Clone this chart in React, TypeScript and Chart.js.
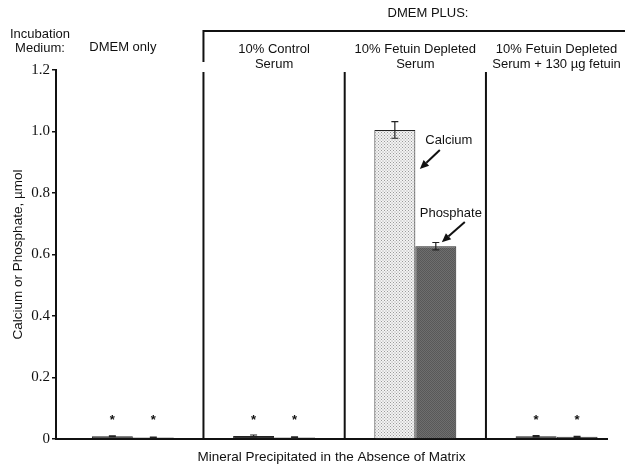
import React, { useEffect, useRef } from 'react';
import { Chart, registerables } from 'chart.js';

Chart.register(...registerables);

const groups = ['DMEM only', '10% Control Serum', '10% Fetuin Depleted Serum', '10% Fetuin Depleted Serum + 130 µg fetuin'];
const groupHeaderLines = [['DMEM only'], ['10% Control', 'Serum'], ['10% Fetuin Depleted', 'Serum'], ['10% Fetuin Depleted', 'Serum + 130 µg fetuin']];
const calcium = [0.009, 0.01, 1.005, 0.009];
const calciumErr = [0.001, 0.003, 0.027, 0.002];
const phosphate = [0.005, 0.005, 0.627, 0.007];
const phosphateErr = [0.001, 0.002, 0.012, 0.002];
const significant = [true, true, false, true];
const yTickValues = [0, 0.2, 0.4, 0.6, 0.8, 1.0, 1.2];

const SANS = '"Liberation Sans", Arial, sans-serif';
const SERIF = '"Liberation Serif", "Times New Roman", serif';

function makePattern(bg: string, dot: string, step: number) {
  const c = document.createElement('canvas');
  c.width = step;
  c.height = step;
  const g = c.getContext('2d')!;
  g.fillStyle = bg;
  g.fillRect(0, 0, step, step);
  g.fillStyle = dot;
  g.fillRect(0, 0, 1, 1);
  g.fillRect(step / 2, step / 2, 1, 1);
  const ctx = document.createElement('canvas').getContext('2d')!;
  return ctx.createPattern(c, 'repeat') as CanvasPattern;
}

function arrow(ctx: CanvasRenderingContext2D, x1: number, y1: number, x2: number, y2: number) {
  ctx.save();
  ctx.strokeStyle = '#111';
  ctx.fillStyle = '#111';
  ctx.lineWidth = 2;
  const ang = Math.atan2(y2 - y1, x2 - x1);
  const hl = 9;
  const hx = x2 - hl * Math.cos(ang);
  const hy = y2 - hl * Math.sin(ang);
  ctx.beginPath();
  ctx.moveTo(x1, y1);
  ctx.lineTo(hx, hy);
  ctx.stroke();
  ctx.beginPath();
  ctx.moveTo(x2, y2);
  ctx.lineTo(hx + 4 * Math.cos(ang + Math.PI / 2), hy + 4 * Math.sin(ang + Math.PI / 2));
  ctx.lineTo(hx + 4 * Math.cos(ang - Math.PI / 2), hy + 4 * Math.sin(ang - Math.PI / 2));
  ctx.closePath();
  ctx.fill();
  ctx.restore();
}

const decorPlugin = {
  id: 'decor',
  afterDatasetsDraw(chart: any) {
    const ctx: CanvasRenderingContext2D = chart.ctx;
    const xs = chart.scales.x;
    const ys = chart.scales.y;
    const area = chart.chartArea;
    ctx.save();

    // separators
    const seps = [0.5, 1.5, 2.5].map((v) => xs.getPixelForValue(v));
    ctx.strokeStyle = '#111';
    ctx.lineWidth = 2;
    seps.forEach((sx) => {
      ctx.beginPath();
      ctx.moveTo(sx, 72);
      ctx.lineTo(sx, area.bottom);
      ctx.stroke();
    });
    // bracket
    ctx.beginPath();
    ctx.moveTo(seps[0], 62);
    ctx.lineTo(seps[0], 31);
    ctx.lineTo(chart.width, 31);
    ctx.stroke();

    // header texts
    ctx.fillStyle = '#111';
    ctx.textAlign = 'center';
    ctx.textBaseline = 'middle';
    ctx.font = `13px ${SANS}`;
    ctx.fillText('DMEM PLUS:', 428, 13);
    ctx.fillText('Incubation', 40, 34);
    ctx.fillText('Medium:', 40, 48);
    groupHeaderLines.forEach((lines, i) => {
      const cx = xs.getPixelForValue(i);
      if (lines.length === 1) {
        ctx.fillText(lines[0], cx - 10, 47);
      } else {
        ctx.fillText(lines[0], cx, 49);
        ctx.fillText(lines[1], cx, 64);
      }
    });

    // error bars and stars
    const errs = [calciumErr, phosphateErr];
    const vals = [calcium, phosphate];
    [0, 1].forEach((d) => {
      const meta = chart.getDatasetMeta(d);
      meta.data.forEach((bar: any, i: number) => {
        const v = vals[d][i];
        const e = errs[d][i];
        const yt = ys.getPixelForValue(v + e);
        const yb = ys.getPixelForValue(v - e);
        ctx.strokeStyle = '#222';
        ctx.lineWidth = 1.2;
        ctx.beginPath();
        ctx.moveTo(bar.x, yt);
        ctx.lineTo(bar.x, yb);
        ctx.moveTo(bar.x - 3.5, yt);
        ctx.lineTo(bar.x + 3.5, yt);
        ctx.moveTo(bar.x - 3.5, yb);
        ctx.lineTo(bar.x + 3.5, yb);
        ctx.stroke();
        if (significant[i]) {
          ctx.fillStyle = '#111';
          ctx.font = `bold 13px ${SANS}`;
          ctx.textBaseline = 'middle';
          ctx.fillText('*', bar.x, ys.getPixelForValue(0) - 19);
        }
      });
    });

    // callouts
    const cBar = chart.getDatasetMeta(0).data[2];
    const pBar = chart.getDatasetMeta(1).data[2];
    ctx.fillStyle = '#111';
    ctx.font = `13px ${SANS}`;
    ctx.textAlign = 'center';
    ctx.textBaseline = 'middle';
    ctx.fillText('Calcium', cBar.x + 54, ys.getPixelForValue(0.972));
    arrow(ctx, cBar.x + 45, ys.getPixelForValue(0.94), cBar.x + 25, ys.getPixelForValue(0.878));
    ctx.fillText('Phosphate', pBar.x + 15, ys.getPixelForValue(0.735));
    arrow(ctx, pBar.x + 29, ys.getPixelForValue(0.706), pBar.x + 6, ys.getPixelForValue(0.64));

    ctx.restore();
  },
};

const isTiny = (c: any) => !!(c.raw && c.raw.y < 0.05);

export default function App() {
  const ref = useRef<HTMLCanvasElement>(null);
  useEffect(() => {
    document.body.style.margin = '0';
    const calcPattern = makePattern('#f3f3f3', '#9a9a9a', 3);
    const phosPattern = makePattern('#6e6e6e', '#585858', 2);
    const chart = new Chart(ref.current!, {
      type: 'bar',
      data: {
        datasets: [
          {
            label: 'Calcium',
            data: calcium.map((v, i) => ({ x: i, y: v })),
            backgroundColor: ((c: any) => (isTiny(c) ? '#333' : calcPattern)) as any,
            borderColor: '#222',
            borderWidth: 1,
          },
          {
            label: 'Phosphate',
            data: phosphate.map((v, i) => ({ x: i, y: v })),
            backgroundColor: ((c: any) => (isTiny(c) ? '#333' : phosPattern)) as any,
            borderColor: '#222',
            borderWidth: 1,
          },
        ],
      },
      options: {
        animation: false,
        responsive: false,
        devicePixelRatio: 1,
        categoryPercentage: 0.58,
        barPercentage: 1,
        layout: { padding: { top: 70, right: 18, left: 0, bottom: 0 } },
        plugins: { legend: { display: false }, tooltip: { enabled: false } },
        scales: {
          x: {
            type: 'linear',
            offset: false,
            min: -0.544,
            max: 3.357,
            afterBuildTicks: (scale: any) => {
              scale.ticks = groups.map((_, i) => ({ value: i }));
            },
            afterFit: (scale: any) => {
              scale.height = 28;
            },
            grid: { display: false, offset: false },
            ticks: { display: false },
            border: { display: true, color: '#111', width: 2 },
            title: {
              display: true,
              text: 'Mineral Precipitated in the Absence of Matrix',
              color: '#111',
              font: { family: SANS, size: 13.5 },
              padding: { top: 0, bottom: 2 },
            },
          },
          y: {
            min: 0,
            max: 1.2,
            afterBuildTicks: (scale: any) => {
              scale.ticks = yTickValues.map((v) => ({ value: v }));
            },
            afterFit: (scale: any) => {
              scale.width = 56;
            },
            grid: { drawOnChartArea: false, drawTicks: true, tickLength: 4, color: '#111', lineWidth: 1.5 },
            border: { display: true, color: '#111', width: 2 },
            ticks: {
              color: '#111',
              padding: 2,
              font: { family: SERIF, size: 15 },
              callback: (v: any) => (Number(v) === 0 ? '0' : Number(v).toFixed(1)),
            },
            title: {
              display: true,
              text: 'Calcium or Phosphate, µmol',
              color: '#111',
              font: { family: SANS, size: 13.5 },
              padding: { top: 10, bottom: 0 },
            },
          },
        },
      },
      plugins: [decorPlugin],
    });
    return () => chart.destroy();
  }, []);
  return (
    <div style={{ position: 'absolute', left: 0, top: 0, width: 625, height: 467, background: '#fff' }}>
      <canvas ref={ref} width={625} height={467} style={{ display: 'block' }} />
    </div>
  );
}
